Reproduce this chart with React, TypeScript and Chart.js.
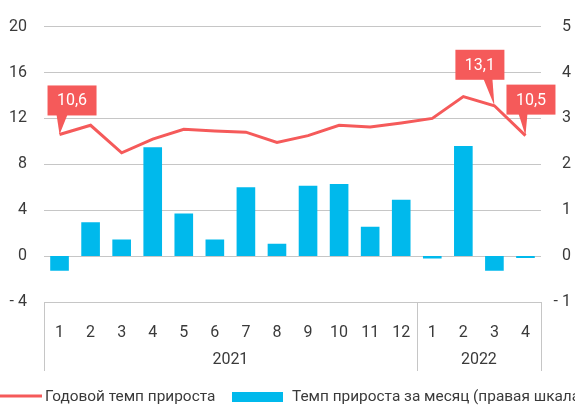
import React, { useEffect, useRef } from "react";
import { Chart, registerables } from "chart.js";

Chart.register(...registerables);

const months = ["1", "2", "3", "4", "5", "6", "7", "8", "9", "10", "11", "12", "1", "2", "3", "4"];
const yearLabels = ["2021", "2022"];
const yearSpans = [12, 4];
const annualGrowth = [10.6, 11.4, 9.0, 10.2, 11.05, 10.9, 10.8, 9.9, 10.5, 11.4, 11.25, 11.6, 12.0, 13.9, 13.1, 10.5];
const monthlyGrowth = [-0.32, 0.74, 0.36, 2.37, 0.93, 0.36, 1.5, 0.27, 1.53, 1.57, 0.64, 1.23, -0.05, 2.4, -0.32, -0.04];
const labelledPoints = [0, 14, 15];
const seriesNames = ["Годовой темп прироста", "Темп прироста за месяц (правая шкала)"];

const RED = "#f55a5a";
const BLUE = "#00b9ec";
const GRID = "#c6c6c6";
const TEXT = "#3a3a3a";
const FONT = "Roboto";

// box placement relative to point: [boxLeftOffset, boxTopOffset, pointerBaseStart, pointerBaseEnd]
const calloutGeometry: Record<number, number[]> = {
  0: [-12, -49, 9, 20],
  14: [-39, -56, 28, 37],
  15: [-19, -51, 12, 21],
};

const fmt = (v: number) => v.toFixed(1).replace(".", ",");
const tickFmt = (v: number | string) => {
  const n = Number(v);
  return n < 0 ? "- " + Math.abs(n) : String(n);
};

const overlayPlugin = {
  id: "overlay",
  afterDatasetsDraw(chart: any) {
    const ctx = chart.ctx;
    const meta = chart.getDatasetMeta(1);
    ctx.save();
    ctx.font = `16px ${FONT}`;
    ctx.textAlign = "center";
    ctx.textBaseline = "middle";
    for (const i of labelledPoints) {
      const pt = meta.data[i];
      if (!pt) continue;
      const g = calloutGeometry[i];
      const bx = pt.x + g[0];
      const by = pt.y + g[1];
      const bw = 49;
      const bh = 30;
      ctx.fillStyle = RED;
      ctx.fillRect(bx, by, bw, bh);
      ctx.beginPath();
      ctx.moveTo(bx + g[2], by + bh - 1);
      ctx.lineTo(bx + g[3], by + bh - 1);
      ctx.lineTo(pt.x, pt.y);
      ctx.closePath();
      ctx.fill();
      ctx.fillStyle = "#ffffff";
      ctx.fillText(fmt(annualGrowth[i]), bx + bw / 2, by + bh / 2 + 1);
    }
    ctx.restore();
  },
  afterDraw(chart: any) {
    const ctx = chart.ctx;
    const xs = chart.scales.x;
    const half = (xs.getPixelForValue(1) - xs.getPixelForValue(0)) / 2;
    const top = chart.chartArea.bottom;
    const bottom = top + 69;
    ctx.save();
    ctx.strokeStyle = GRID;
    ctx.lineWidth = 1;
    let idx = 0;
    const bounds = [xs.getPixelForValue(0) - half];
    const mids: number[] = [];
    for (const span of yearSpans) {
      const start = xs.getPixelForValue(idx) - half;
      const end = xs.getPixelForValue(idx + span - 1) + half;
      bounds.push(end);
      mids.push((start + end) / 2);
      idx += span;
    }
    for (const b of bounds) {
      const x = Math.round(b) + 0.5;
      ctx.beginPath();
      ctx.moveTo(x, top);
      ctx.lineTo(x, bottom);
      ctx.stroke();
    }
    ctx.fillStyle = TEXT;
    ctx.font = `16px ${FONT}`;
    ctx.textAlign = "center";
    ctx.textBaseline = "middle";
    yearLabels.forEach((lab, k) => ctx.fillText(lab, mids[k], top + 58));

    // legend
    const ly = 397;
    ctx.textAlign = "left";
    ctx.strokeStyle = RED;
    ctx.lineWidth = 3;
    ctx.beginPath();
    ctx.moveTo(0, ly - 1);
    ctx.lineTo(42, ly - 1);
    ctx.stroke();
    ctx.fillStyle = TEXT;
    ctx.font = `15.4px ${FONT}`;
    ctx.fillText(seriesNames[0], 45, ly);
    const bx = 232;
    ctx.fillStyle = BLUE;
    ctx.fillRect(bx, ly - 5, 51, 10);
    ctx.fillStyle = TEXT;
    ctx.fillText(seriesNames[1], bx + 60, ly);
    ctx.restore();
  },
};

export default function App() {
  const ref = useRef<HTMLCanvasElement>(null);
  useEffect(() => {
    if (!ref.current) return;
    const chart = new Chart(ref.current, {
      type: "bar",
      data: {
        labels: months,
        datasets: [
          {
            type: "bar",
            label: seriesNames[1],
            data: monthlyGrowth,
            backgroundColor: BLUE,
            yAxisID: "y1",
            barPercentage: 0.6,
            categoryPercentage: 1,
            order: 1,
          },
          {
            type: "line",
            label: seriesNames[0],
            data: annualGrowth,
            borderColor: RED,
            backgroundColor: RED,
            borderWidth: 3,
            pointRadius: 0,
            tension: 0,
            yAxisID: "y",
            order: 0,
          },
        ] as any,
      },
      options: {
        responsive: false,
        animation: false,
        layout: { padding: { top: 21, right: 4, bottom: 36, left: 0 } },
        plugins: { legend: { display: false }, tooltip: { enabled: false } },
        scales: {
          x: {
            offset: true,
            grid: { display: false },
            border: { display: false },
            ticks: { color: TEXT, font: { family: FONT, size: 16 }, padding: 13, maxRotation: 0, autoSkip: false },
            afterFit: (s: any) => {
              s.height = 69;
            },
          },
          y: {
            position: "left",
            min: -4,
            max: 20,
            ticks: { stepSize: 4, color: TEXT, font: { family: FONT, size: 16 }, padding: 17, callback: tickFmt },
            grid: { color: GRID, drawTicks: false, lineWidth: 1 },
            border: { display: false },
            afterFit: (s: any) => {
              s.width = 44;
            },
          },
          y1: {
            position: "right",
            min: -1,
            max: 5,
            ticks: { stepSize: 1, color: TEXT, font: { family: FONT, size: 16 }, crossAlign: "far", callback: tickFmt },
            grid: { display: false, drawTicks: false },
            border: { display: false },
            afterFit: (s: any) => {
              s.width = 30;
            },
          },
        },
      },
      plugins: [overlayPlugin],
    });
    return () => chart.destroy();
  }, []);
  return (
    <div style={{ position: "fixed", left: 0, top: 0, width: 575, height: 407, background: "#fff" }}>
      <canvas ref={ref} width={575} height={407} style={{ display: "block" }} />
    </div>
  );
}
